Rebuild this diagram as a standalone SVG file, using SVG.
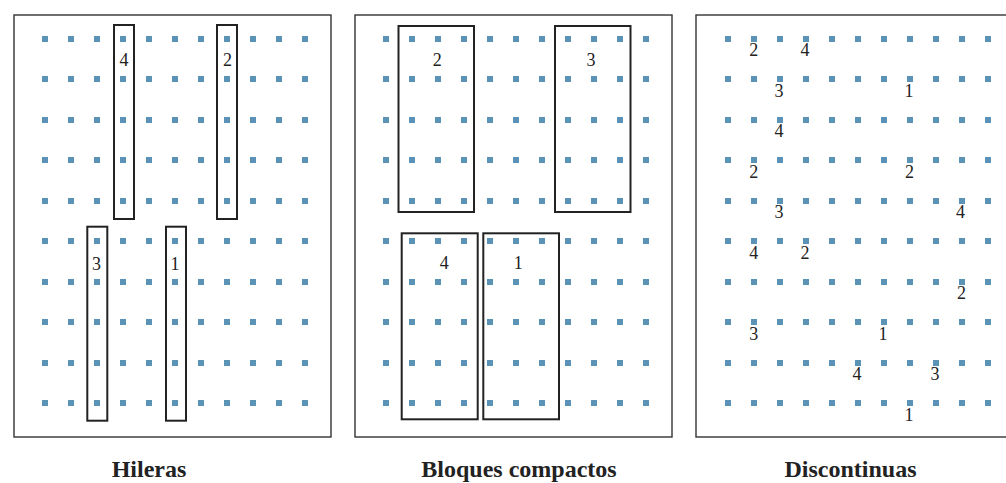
<svg xmlns="http://www.w3.org/2000/svg" width="1006" height="483" viewBox="0 0 1006 483">
<style>
.frame{fill:#fff;stroke:#333;stroke-width:1.4}
.blk{fill:none;stroke:#222;stroke-width:2}
.num{font-family:"Liberation Serif",serif;font-size:18px;fill:#222;text-anchor:middle}
.title{font-family:"Liberation Serif",serif;font-size:24px;font-weight:bold;fill:#222;text-anchor:middle}
.dot{fill:#5b93b6}
</style>
<defs>
<g id="row">
<rect class="dot" x="0" y="0" width="6" height="6"/>
<rect class="dot" x="26" y="0" width="6" height="6"/>
<rect class="dot" x="52" y="0" width="6" height="6"/>
<rect class="dot" x="78" y="0" width="6" height="6"/>
<rect class="dot" x="104" y="0" width="6" height="6"/>
<rect class="dot" x="130" y="0" width="6" height="6"/>
<rect class="dot" x="156" y="0" width="6" height="6"/>
<rect class="dot" x="182" y="0" width="6" height="6"/>
<rect class="dot" x="208" y="0" width="6" height="6"/>
<rect class="dot" x="234" y="0" width="6" height="6"/>
<rect class="dot" x="260" y="0" width="6" height="6"/>
</g>
<g id="grid">
<use href="#row" y="0"/>
<use href="#row" y="40"/>
<use href="#row" y="81"/>
<use href="#row" y="121"/>
<use href="#row" y="162"/>
<use href="#row" y="202"/>
<use href="#row" y="243"/>
<use href="#row" y="283"/>
<use href="#row" y="324"/>
<use href="#row" y="364"/>
</g>
</defs>
<rect width="1006" height="483" fill="#fff"/>

<g id="panel-hileras">
<rect class="frame" x="14" y="15" width="317" height="422"/>
<use href="#grid" x="42" y="36"/>
<g id="h4"><rect class="blk" x="114" y="25" width="20" height="194"/><text class="num" x="124" y="66">4</text></g>
<g id="h2"><rect class="blk" x="217" y="25" width="20" height="194"/><text class="num" x="227.5" y="66">2</text></g>
<g id="h3"><rect class="blk" x="87.3" y="226.7" width="20" height="194"/><text class="num" x="96.5" y="270">3</text></g>
<g id="h1"><rect class="blk" x="166" y="226.7" width="20" height="194"/><text class="num" x="175" y="270">1</text></g>
<text class="title" x="149" y="477">Hileras</text>
</g>

<g id="panel-bloques">
<rect class="frame" x="355" y="15" width="317" height="422"/>
<use href="#grid" x="383" y="36"/>
<g id="b2"><rect class="blk" x="398.5" y="26" width="75.5" height="186"/><text class="num" x="437.3" y="66">2</text></g>
<g id="b3"><rect class="blk" x="555" y="26" width="75.5" height="186"/><text class="num" x="591" y="66">3</text></g>
<g id="b4"><rect class="blk" x="401.7" y="233.3" width="76" height="186"/><text class="num" x="444.3" y="269">4</text></g>
<g id="b1"><rect class="blk" x="483.3" y="233.3" width="75.7" height="186"/><text class="num" x="518.3" y="269">1</text></g>
<text class="title" x="519" y="477">Bloques compactos</text>
</g>

<g id="panel-discontinuas">
<rect class="frame" x="696" y="15" width="317" height="422"/>
<use href="#grid" x="725" y="36"/>
<g id="d-labels">
<text class="num" x="753.7" y="56">2</text>
<text class="num" x="805" y="56">4</text>
<text class="num" x="779" y="96.5">3</text>
<text class="num" x="909" y="96.5">1</text>
<text class="num" x="779" y="137">4</text>
<text class="num" x="753.7" y="177.5">2</text>
<text class="num" x="909.5" y="177.5">2</text>
<text class="num" x="779" y="218">3</text>
<text class="num" x="960.5" y="218">4</text>
<text class="num" x="753.7" y="258.5">4</text>
<text class="num" x="805" y="258.5">2</text>
<text class="num" x="961.5" y="299">2</text>
<text class="num" x="753.7" y="339.5">3</text>
<text class="num" x="883" y="339.5">1</text>
<text class="num" x="857" y="380">4</text>
<text class="num" x="935" y="380">3</text>
<text class="num" x="909" y="421">1</text>
</g>
<text class="title" x="850.5" y="477">Discontinuas</text>
</g>

<g id="connectors"></g>
</svg>
